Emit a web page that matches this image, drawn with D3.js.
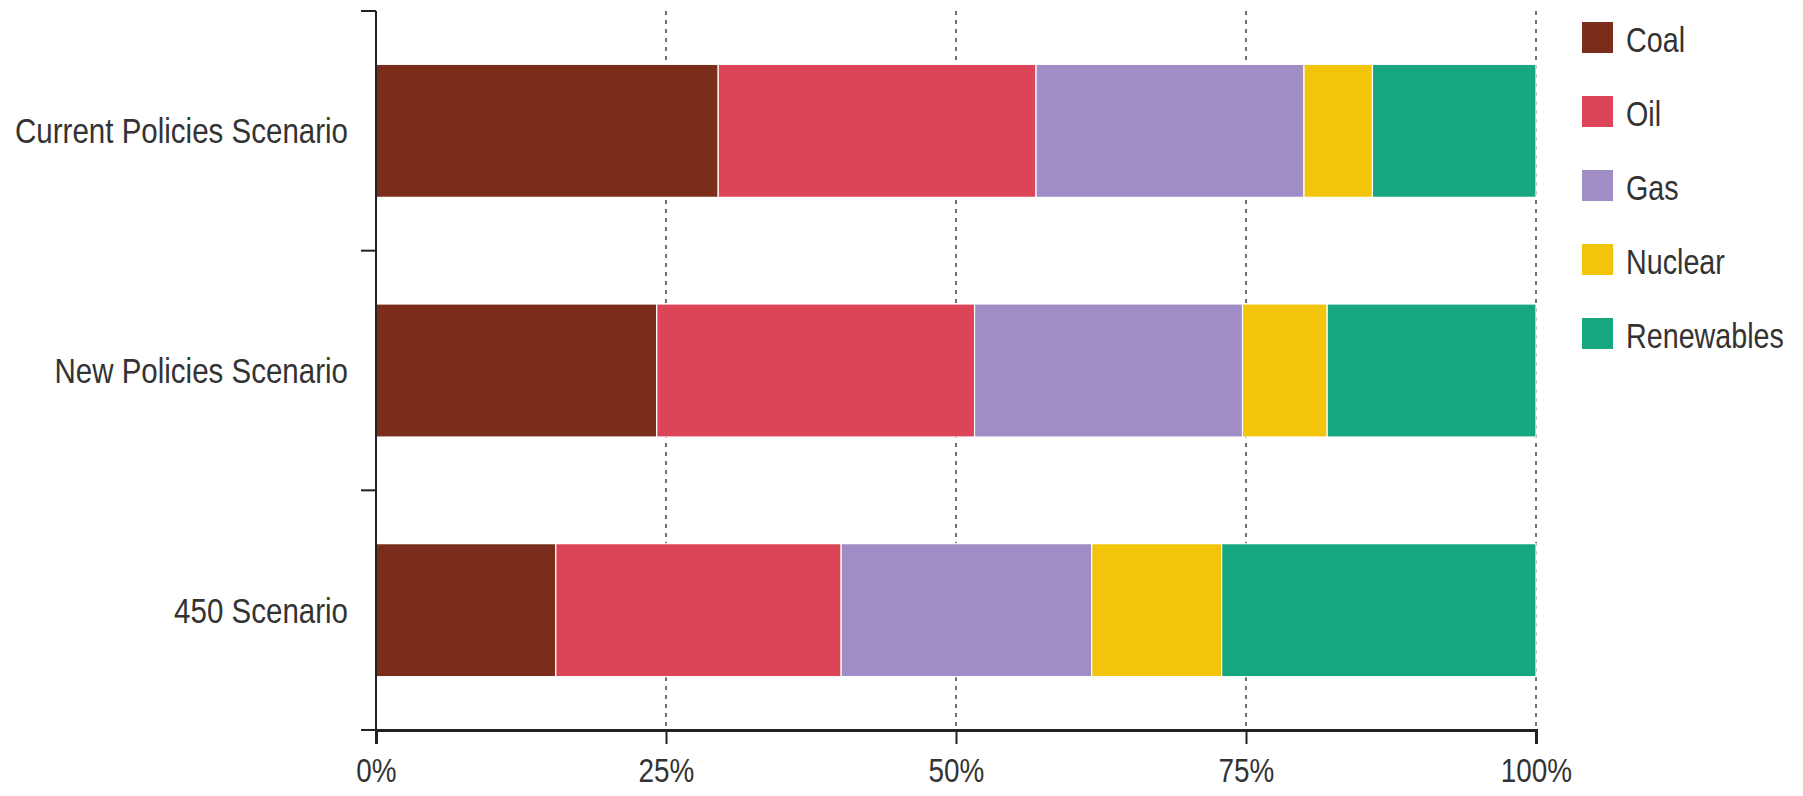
<!DOCTYPE html>
<html>
<head>
<meta charset="utf-8">
<script src="https://cdn.jsdelivr.net/npm/d3@7"></script>
<style>
  html, body { margin: 0; padding: 0; background: #fff; }
  svg { display: block; }
  text { font-family: "Liberation Sans", Arial, sans-serif; fill: #333; }
</style>
</head>
<body>
<svg id="chart" width="1803" height="796"></svg>
<script>
// ---- data ----
const categories = ["Current Policies Scenario", "New Policies Scenario", "450 Scenario"];
const series = ["Coal", "Oil", "Gas", "Nuclear", "Renewables"];
const coal       = [29.5, 24.2, 15.5];
const oil        = [27.4, 27.4, 24.6];
const gas        = [23.1, 23.1, 21.6];
const nuclear    = [5.9, 7.3, 11.2];
const renewables = [14.1, 18.0, 27.1];
const xTickValues = [0, 25, 50, 75, 100];
const xTickLabels = ["0%", "25%", "50%", "75%", "100%"];
const colors = ["#7b2d1c", "#dc4558", "#a18dc5", "#f2c40a", "#17a77f"];

// ---- build table ----
const valuesBySeries = [coal, oil, gas, nuclear, renewables];
const rows = categories.map((c, i) => {
  const r = { category: c };
  series.forEach((s, j) => r[s] = valuesBySeries[j][i]);
  return r;
});
const stacked = d3.stack().keys(series)(rows);

// ---- layout ----
const svg = d3.select("#chart");
const plotLeft = 376, plotRight = 1536, plotTop = 11, plotBottom = 730;
const narrow = 0.82; // horizontal condensing of the text

const x = d3.scaleLinear().domain([0, 100]).range([plotLeft, plotRight]);
const y = d3.scaleBand().domain(categories).range([plotTop, plotBottom])
  .paddingInner(0.445).paddingOuter(0.2225);
const color = d3.scaleOrdinal().domain(series).range(colors);

// gridlines (dashed)
svg.append("g").selectAll("line")
  .data(xTickValues.slice(1))
  .join("line")
  .attr("x1", d => x(d)).attr("x2", d => x(d))
  .attr("y1", plotTop).attr("y2", plotBottom)
  .attr("stroke", "#444").attr("stroke-width", 1.5)
  .attr("stroke-dasharray", "4,5");

// bars
svg.append("g").selectAll("g")
  .data(stacked)
  .join("g")
  .attr("fill", d => color(d.key))
  .selectAll("rect")
  .data(d => d)
  .join("rect")
  .attr("x", d => x(d[0]))
  .attr("width", d => x(d[1]) - x(d[0]))
  .attr("y", d => y(d.data.category))
  .attr("height", y.bandwidth())
  .attr("stroke", "#fff").attr("stroke-width", 1.2);

// x axis
const xAxis = d3.axisBottom(x)
  .tickValues(xTickValues)
  .tickFormat((d, i) => xTickLabels[i])
  .tickSize(14).tickPadding(14);
const gx = svg.append("g").attr("transform", `translate(0,${plotBottom})`).call(xAxis);
gx.select(".domain").attr("stroke", "#222").attr("stroke-width", 3);
gx.selectAll(".tick line").attr("stroke", "#222").attr("stroke-width", 2);
gx.selectAll(".tick text").attr("font-size", 34).attr("fill", "#333")
  .attr("transform", `scale(${narrow},1)`)
  .style("font-family", '"Liberation Sans", Arial, sans-serif');

// y axis line with boundary ticks
svg.append("line")
  .attr("x1", plotLeft).attr("x2", plotLeft).attr("y1", plotTop).attr("y2", plotBottom)
  .attr("stroke", "#222").attr("stroke-width", 2);
const step = y.step();
const boundaries = categories.map(c => y(c) - step * y.paddingInner() / 2).concat([plotBottom]);
svg.append("g").selectAll("line")
  .data(boundaries)
  .join("line")
  .attr("x1", plotLeft - 15).attr("x2", plotLeft)
  .attr("y1", d => d).attr("y2", d => d)
  .attr("stroke", "#222").attr("stroke-width", 2);

// category labels
svg.append("g").selectAll("text")
  .data(categories)
  .join("text")
  .attr("transform", d => `translate(348,${y(d) + y.bandwidth() / 2}) scale(${narrow},1)`)
  .attr("dy", "0.35em")
  .attr("text-anchor", "end")
  .attr("font-size", 36)
  .text(d => d);

// legend
const ly = d3.scalePoint().domain(series).range([52, 348]);
const lg = svg.append("g").selectAll("g")
  .data(series)
  .join("g");
lg.append("rect")
  .attr("x", 1582).attr("y", d => ly(d) - 30)
  .attr("width", 31).attr("height", 31)
  .attr("fill", d => color(d));
lg.append("text")
  .attr("transform", d => `translate(1626,${ly(d)}) scale(${narrow},1)`)
  .attr("font-size", 35)
  .text(d => d);
</script>
</body>
</html>
